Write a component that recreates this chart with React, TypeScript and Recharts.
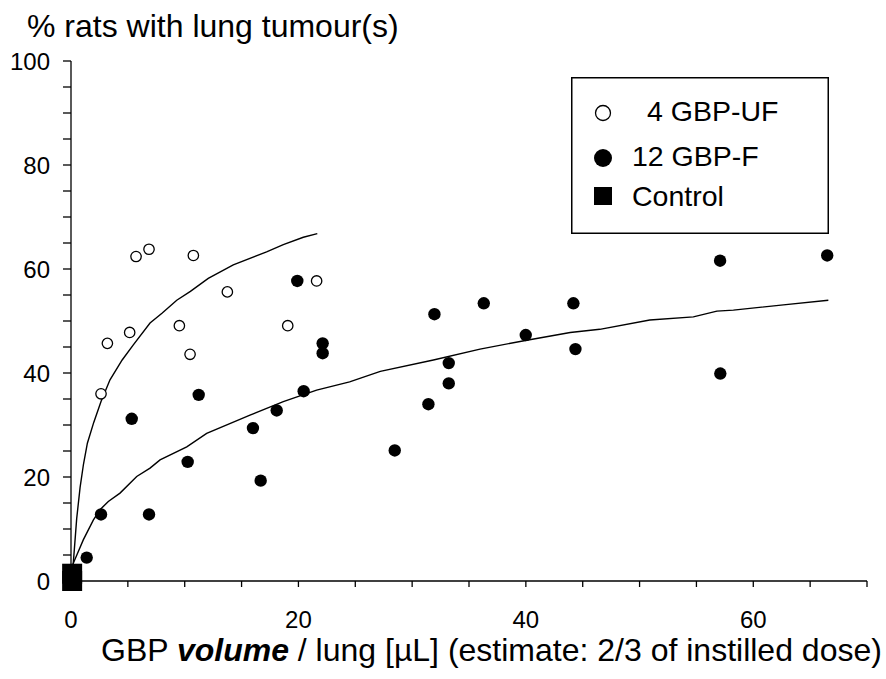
import React from 'react';
import { ScatterChart, Scatter, XAxis, YAxis, Legend } from 'recharts';

const FONT = '"Liberation Sans", Arial, Helvetica, sans-serif';

// 4 GBP-UF (open circles)
const ufX = [2.64, 3.2, 5.16, 9.53, 10.47, 19.06, 5.72, 6.86, 10.76, 13.75, 21.6];
const ufY = [36.0, 45.7, 47.8, 49.1, 43.6, 49.1, 62.4, 63.8, 62.6, 55.6, 57.7];

// 12 GBP-F (filled circles)
const fX = [1.38, 2.64, 6.86, 5.34, 10.26, 11.23, 16.0, 16.68, 18.09, 20.46, 22.13, 22.13, 19.9, 28.47, 31.43, 31.96, 33.22, 33.22, 36.3, 39.99, 44.18, 44.36, 57.1, 57.08, 66.5];
const fY = [4.5, 12.8, 12.8, 31.2, 22.9, 35.8, 29.4, 19.3, 32.8, 36.5, 45.7, 43.8, 57.7, 25.1, 34.0, 51.3, 41.9, 38.0, 53.4, 47.3, 53.4, 44.6, 39.9, 61.6, 62.6];

// Control (squares)
const ctrlX = [0.1, 0.1];
const ctrlY = [0, 1.4];

// fitted curves
const ufCurveX = [0, 0.2, 0.5, 0.8, 1.1, 1.44, 2.0, 2.64, 3.43, 4.5, 5.48, 6.95, 8.0, 9.3, 10.5, 12.07, 14.27, 17.2, 18.67, 20.43, 21.66];
const ufCurveY = [0, 3.4, 12, 18, 22.5, 26.5, 30.5, 34.5, 38.7, 42.5, 45.4, 49.6, 51.5, 54.0, 55.7, 58.2, 60.8, 63.3, 64.7, 66.1, 66.8];

const fCurveX = [0, 0.2, 1.08, 1.96, 2.55, 3.28, 4.31, 5.78, 6.95, 7.83, 10.18, 11.93, 15.74, 18.67, 21.6, 24.5, 27.2, 31.87, 35.97, 40.08, 43.9, 46.5, 50.9, 54.73, 56.8, 58.25, 62.65, 66.6];
const fCurveY = [0, 3.4, 7.9, 11.7, 13.7, 15.3, 16.9, 20.1, 21.7, 23.3, 25.8, 28.4, 31.9, 34.5, 36.7, 38.3, 40.3, 42.5, 44.6, 46.3, 47.8, 48.4, 50.2, 50.8, 51.9, 52.1, 53.1, 54.0];

// axes
const xTicks = [0, 5, 10, 15, 20, 25, 30, 35, 40, 45, 50, 55, 60, 65, 70];
const xLabelled = [0, 20, 40, 60];
const yTicks = [0, 5, 10, 15, 20, 25, 30, 35, 40, 45, 50, 55, 60, 65, 70, 75, 80, 85, 90, 95, 100];
const yLabelled = [0, 20, 40, 60, 80, 100];

const legendNames = ['4 GBP-UF', '12 GBP-F', 'Control'];
const titleText = '% rats with lung tumour(s)';

const pts = (xs: number[], ys: number[]) => xs.map((x, i) => ({ x, y: ys[i] }));

const OpenDot = (p: any) => <circle cx={p.cx} cy={p.cy} r={5.2} fill="#fff" stroke="#000" strokeWidth={1.3} />;
const FilledDot = (p: any) => <circle cx={p.cx} cy={p.cy} r={6.2} fill="#000" />;
const SquareDot = (p: any) => <rect x={p.cx - 10} y={p.cy - 10} width={20} height={20} fill="#000" />;
const NoDot = () => <g />;

const LegendBox = () => (
  <svg width={258} height={157} style={{ display: 'block' }}>
    <rect x={0.75} y={0.75} width={256.5} height={155.5} fill="#fff" stroke="#000" strokeWidth={1.5} />
    <circle cx={32} cy={36} r={7.5} fill="#fff" stroke="#000" strokeWidth={1.3} />
    <text x={76} y={44} fontSize={28.5} fontFamily={FONT} fill="#000">{legendNames[0]}</text>
    <circle cx={32} cy={81} r={9} fill="#000" />
    <text x={61} y={89} fontSize={28.5} fontFamily={FONT} fill="#000">{legendNames[1]}</text>
    <rect x={23} y={110} width={18} height={18} fill="#000" />
    <text x={61} y={129} fontSize={28.5} fontFamily={FONT} fill="#000">{legendNames[2]}</text>
  </svg>
);

export default function App() {
  return (
    <div style={{ position: 'absolute', left: 0, top: 0, width: 886, height: 679, background: '#fff' }}>
      <ScatterChart width={886} height={679} margin={{ top: 61, right: 19, bottom: 58, left: 11 }}>
        <XAxis
          dataKey="x"
          type="number"
          domain={[0, 70]}
          ticks={xTicks}
          interval={0}
          tickFormatter={(v: number) => (xLabelled.includes(v) ? String(v) : '')}
          tickSize={6}
          tickMargin={24}
          height={40}
          axisLine={{ stroke: '#000', strokeWidth: 1.3 }}
          tickLine={{ stroke: '#000', strokeWidth: 1.3 }}
          tick={{ fill: '#000', fontSize: 24, fontFamily: FONT }}
        />
        <YAxis
          dataKey="y"
          type="number"
          domain={[0, 100]}
          ticks={yTicks}
          interval={0}
          tickFormatter={(v: number) => (yLabelled.includes(v) ? String(v) : '')}
          tickSize={8}
          tickMargin={13}
          width={60}
          axisLine={{ stroke: '#000', strokeWidth: 1.3 }}
          tickLine={{ stroke: '#000', strokeWidth: 1.3 }}
          tick={{ fill: '#000', fontSize: 24, fontFamily: FONT }}
        />
        <Legend
          layout="vertical"
          align="center"
          verticalAlign="middle"
          content={LegendBox}
          wrapperStyle={{ left: 571, top: 77, right: 'auto', bottom: 'auto', width: 258, height: 157 }}
        />
        <Scatter name="uf-fit" data={pts(ufCurveX, ufCurveY)} line={{ stroke: '#000', strokeWidth: 1.4 }} lineType="joint" shape={NoDot} legendType="none" isAnimationActive={false} />
        <Scatter name="f-fit" data={pts(fCurveX, fCurveY)} line={{ stroke: '#000', strokeWidth: 1.4 }} lineType="joint" shape={NoDot} legendType="none" isAnimationActive={false} />
        <Scatter name={legendNames[0]} data={pts(ufX, ufY)} shape={OpenDot} isAnimationActive={false} />
        <Scatter name={legendNames[1]} data={pts(fX, fY)} shape={FilledDot} isAnimationActive={false} />
        <Scatter name={legendNames[2]} data={pts(ctrlX, ctrlY)} shape={SquareDot} isAnimationActive={false} />
      </ScatterChart>
      <svg width={886} height={679} style={{ position: 'absolute', left: 0, top: 0, pointerEvents: 'none' }}>
        <text x={27} y={37} fontSize={32} fontFamily={FONT} fill="#000">{titleText}</text>
        <text x={101} y={661} fontSize={32} fontFamily={FONT} fill="#000">
          GBP <tspan fontWeight="bold" fontStyle="italic">volume</tspan> / lung [µL] (estimate: 2/3 of instilled dose)
        </text>
      </svg>
    </div>
  );
}
